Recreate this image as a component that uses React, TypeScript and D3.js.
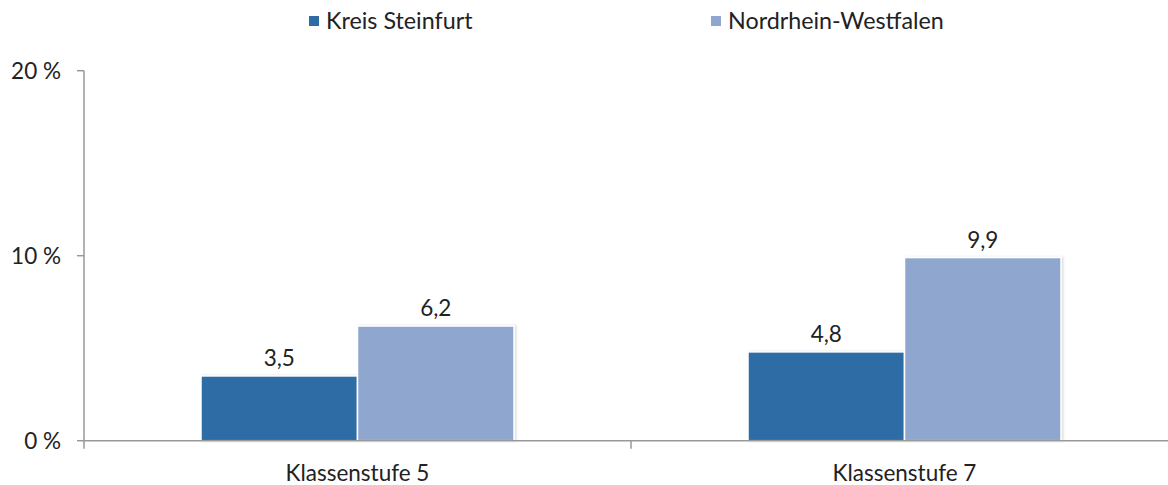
import React from "react";
import * as d3 from "d3";

const categories = ["Klassenstufe 5", "Klassenstufe 7"];
const seriesNames = ["Kreis Steinfurt", "Nordrhein-Westfalen"];
const kreisValues = [3.5, 4.8];
const nrwValues = [6.2, 9.9];
const yTicks = [0, 10, 20];
const colors = ["#2E6CA5", "#8FA7CF"];

const W = 1168;
const H = 485;
const FONT = "Lato, 'Open Sans', sans-serif";
const FS = 22.5;

export default function App() {
  const left = 84;
  const x0 = d3.scaleBand<string>().domain(categories).range([left, left + 2 * 547]).paddingInner(0).paddingOuter(0);
  const x1 = d3.scaleBand<string>().domain(seriesNames).range([0, 313]).paddingInner(0);
  const groupOffset = (x0.bandwidth() - 313) / 2;
  const y = d3.scaleLinear().domain([0, 20]).range([440.7, 70.7]);
  const series = [kreisValues, nrwValues];
  const fmt = (v: number) => v.toFixed(1).replace(".", ",");
  const textColor = "#222";

  return (
    <svg width={W} height={H} style={{ position: "absolute", left: 0, top: 0, background: "#fff" }}>
      <defs>
        <filter id="sh" x="-5%" y="-5%" width="115%" height="115%">
          <feDropShadow dx="1.5" dy="0" stdDeviation="1" floodColor="#000" floodOpacity="0.15" />
        </filter>
      </defs>
      {/* Legend */}
      {seriesNames.map((s, i) => {
        const lx = [309, 711][i];
        return (
          <g key={s}>
            <rect x={lx} y={16} width={10} height={10} fill={colors[i]} />
            <text x={lx + 17} y={29} fontFamily={FONT} fontSize={23.3} fill={textColor}>{s}</text>
          </g>
        );
      })}
      {/* Y axis */}
      <line x1={left} x2={left} y1={y(20)} y2={y(0)} stroke="#999" strokeWidth={1.5} />
      {yTicks.map((t) => (
        <g key={t}>
          <line x1={77} x2={left} y1={y(t)} y2={y(t)} stroke="#999" strokeWidth={1.5} />
          <text x={61} y={y(t) + 8} textAnchor="end" fontFamily={FONT} fontSize={FS} fill={textColor}>{`${t} %`}</text>
        </g>
      ))}
      {/* Bars */}
      {categories.map((c, ci) => (
        <g key={c}>
          {seriesNames.map((s, si) => {
            const v = series[si][ci];
            const bx = (x0(c) as number) + groupOffset + (x1(s) as number);
            const bw = x1.bandwidth();
            return (
              <g key={s}>
                <rect x={bx} y={y(v)} width={bw} height={y(0) - y(v)} fill={colors[si]} stroke="#fff" strokeWidth={1.5} filter="url(#sh)" />
                <text x={bx + bw / 2} y={y(v) - 10} textAnchor="middle" fontFamily={FONT} fontSize={FS} fill={textColor}>{fmt(v)}</text>
              </g>
            );
          })}
        </g>
      ))}
      {/* X axis */}
      <line x1={left} x2={W} y1={y(0)} y2={y(0)} stroke="#999" strokeWidth={1.5} />
      {[left, left + 547].map((tx) => (
        <line key={tx} x1={tx} x2={tx} y1={y(0)} y2={y(0) + 8} stroke="#999" strokeWidth={1.5} />
      ))}
      {categories.map((c) => (
        <text key={c} x={(x0(c) as number) + x0.bandwidth() / 2} y={481} textAnchor="middle" fontFamily={FONT} fontSize={FS} fill={textColor}>{c}</text>
      ))}
    </svg>
  );
}
